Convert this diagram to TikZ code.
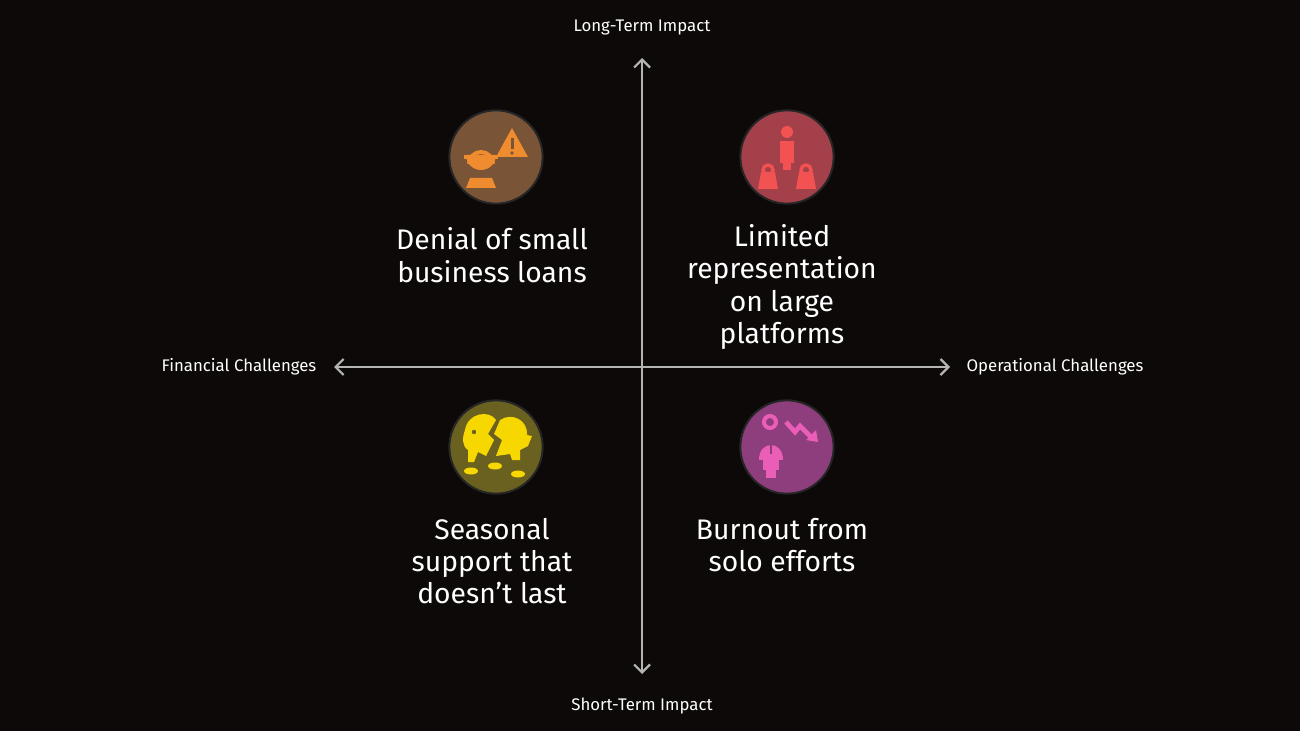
\documentclass[tikz,border=0pt]{standalone}
\usepackage{fontspec}
\setmainfont{Fira Sans}
\usetikzlibrary{arrows.meta}
\definecolor{bg}{HTML}{0C0908}
\definecolor{axis}{HTML}{B4B4B4}
\definecolor{cA}{HTML}{7A5436}\definecolor{iA}{HTML}{F08C30}
\definecolor{cB}{HTML}{A4404A}\definecolor{iB}{HTML}{F25252}
\definecolor{cC}{HTML}{6A6020}\definecolor{iC}{HTML}{F6D800}
\definecolor{cD}{HTML}{8E3E7C}\definecolor{iD}{HTML}{EA5EB8}
\tikzset{
 ax/.style={draw=axis,line width=1.6pt,-{Straight Barb[length=6pt,width=12pt]}},
 axlab/.style={text=white,font=\fontsize{12.6}{14}\selectfont},
 qtext/.style={text=white,align=center,font=\fontsize{21.2}{24.3}\selectfont},
 disc/.style={circle,minimum size=70pt,draw=black!70!gray,line width=1.5pt,inner sep=0pt}
}
\begin{document}
\begin{tikzpicture}[x=0.75pt,y=-0.75pt]
\fill[bg] (0,0) rectangle (1300,731);
\useasboundingbox (0,0) rectangle (1300,731);
\coordinate (c) at (642,367);
\coordinate (t) at (642,58);
\coordinate (b) at (642,674);
\coordinate (l) at (334,367);
\coordinate (r) at (950,367);
\draw[ax] (c) -- (t);
\draw[ax] (c) -- (b);
\draw[ax] (c) -- (l);
\draw[ax] (c) -- (r);
\node[axlab] (lt) at (642,28) {Long-Term Impact};
\node[axlab] (st) at (642,706) {Short-Term Impact};
\node[axlab] (fc) at (239,367) {Financial Challenges};
\node[axlab] (oc) at (1055,367) {Operational Challenges};
\node[disc,fill=cA] (d1) at (496,157) {};
\node[disc,fill=cB] (d2) at (787,157) {};
\node[disc,fill=cC] (d3) at (496,447) {};
\node[disc,fill=cD] (d4) at (787,447) {};
% icon 1: worker + warning
\fill[iA] (512,128) -- (528,157) -- (496,157) -- cycle;
\fill[cA] (510.5,138) rectangle (513.5,149); \fill[cA] (512,153) circle (1.8);
\fill[iA] (466,155) arc (180:0:15) -- cycle;
\fill[iA] (464,155) rectangle (498,159);
\draw[iA,line width=3pt] (469,164) arc (180:360:12);
\fill[iA] (466,188) -- (470,178) -- (492,178) -- (496,188) -- cycle;
% icon 2: person + weights
\fill[iB] (787,132) circle (6);
\fill[iB] (780,141) rectangle (794,163); \fill[iB] (783,163) rectangle (791,170);
\foreach \x in {768,806}{
 \draw[iB,line width=2.5pt] (\x,170) circle (5);
 \fill[iB] (\x-10,189) -- (\x-7,172) -- (\x+7,172) -- (\x+10,189) -- cycle;}
% icon 3: broken piggy
\fill[iC] (465,430) .. controls (468,412) and (490,410) .. (496,420) -- (488,434) -- (494,440) -- (486,456) -- (478,452) -- (474,462) -- (468,462) -- (468,450) .. controls (462,446) and (462,438) .. (465,430) -- cycle;
\fill[iC] (500,420) .. controls (512,412) and (528,420) .. (527,435) -- (532,436) -- (528,446) -- (520,450) -- (520,460) -- (512,460) -- (510,454) -- (496,456) -- (502,440) -- (494,434) -- cycle;
\fill[cC] (474,432) circle (2.2);
\fill[iC] (471,471) ellipse (7 and 3.5);
\fill[iC] (495,466) ellipse (7 and 3.5);
\fill[iC] (518,474) ellipse (7 and 3.5);
% icon 4: person + down arrow
\draw[iD,line width=3pt] (770,422) circle (6);
\fill[iD] (759,460) .. controls (759,440) and (783,440) .. (783,460) -- cycle;
\fill[iD] (763,458) rectangle (779,470); \fill[iD] (766,470) rectangle (776,478);
\draw[cD,line width=1.5pt] (771,442) -- (771,454);
\draw[iD,line width=3.5pt] (786,422) -- (795,432) -- (800,426) -- (812,438);
\fill[iD] (818,442) -- (806,440) -- (816,430) -- cycle;
% texts
\node[qtext] (q1) at (492,255) {Denial of small\\business loans};
\node[qtext] (q2) at (782,287) {Limited\\representation\\on large\\platforms};
\node[qtext] (q3) at (492,561) {Seasonal\\support that\\doesn’t last};
\node[qtext] (q4) at (782,545) {Burnout from\\solo efforts};
\end{tikzpicture}
\end{document}
